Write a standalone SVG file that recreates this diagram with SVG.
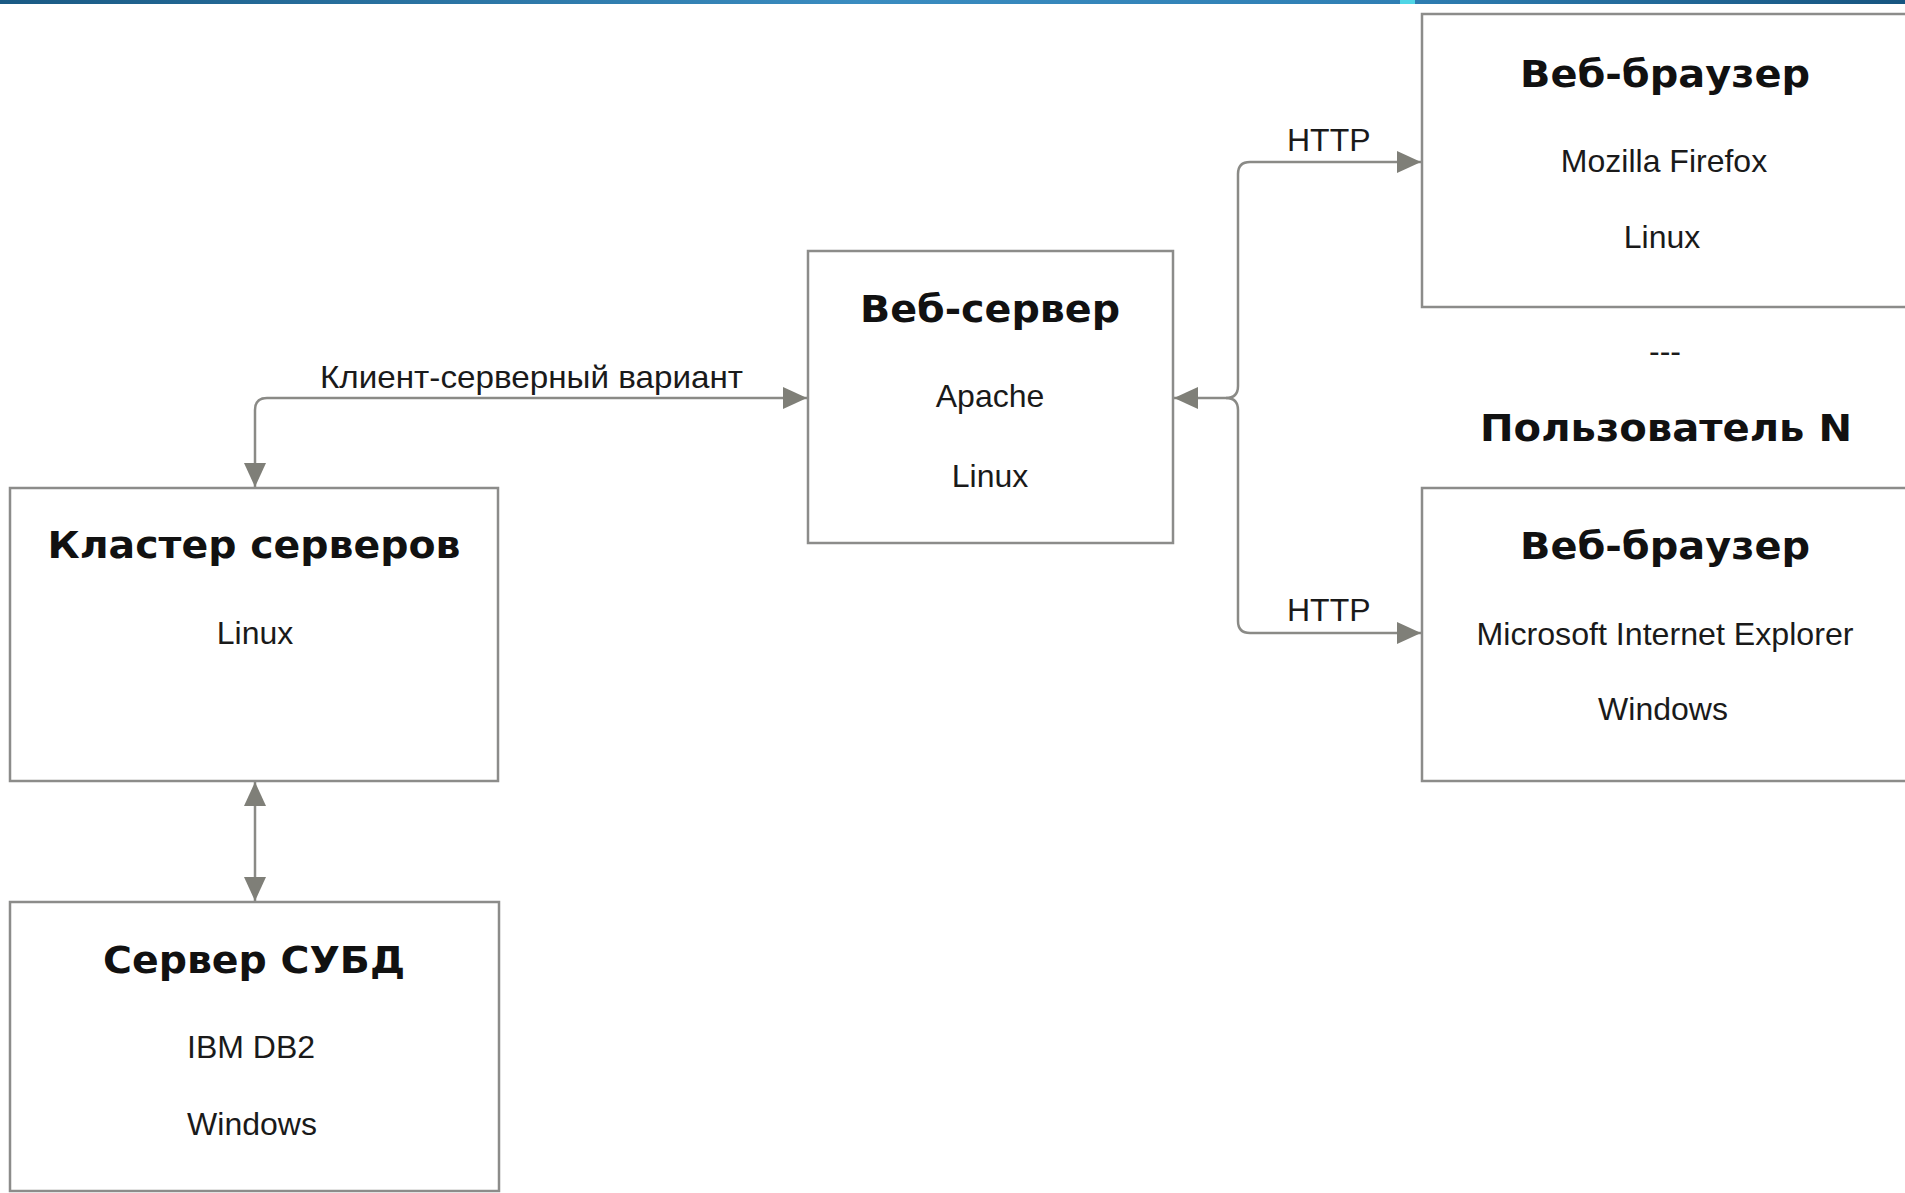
<svg xmlns="http://www.w3.org/2000/svg" width="1905" height="1193" viewBox="0 0 1905 1193">
  <defs>
    <linearGradient id="topbar" x1="0" y1="0" x2="1" y2="0">
      <stop offset="0" stop-color="#1a5a84"/>
      <stop offset="0.45" stop-color="#3a8cc0"/>
      <stop offset="0.73" stop-color="#2f7fb4"/>
      <stop offset="1" stop-color="#175580"/>
    </linearGradient>
    <marker id="arr" markerUnits="userSpaceOnUse" markerWidth="26" markerHeight="24" refX="24" refY="11" orient="auto-start-reverse" viewBox="0 0 26 24">
      <path d="M0,0 L24,11 L0,22 Z" fill="#7f7f78"/>
    </marker>
    <style>
      .box { fill: #ffffff; stroke: #8c8c8a; stroke-width: 2.5; }
      .title { font-family: "DejaVu Sans", "Noto Sans", sans-serif; font-weight: bold; font-size: 37px; fill: #111111; text-anchor: middle; }
      .txt { font-family: "Liberation Sans", Arial, sans-serif; font-size: 32px; fill: #1a1a1a; text-anchor: middle; }
      .lbl { font-family: "Liberation Sans", Arial, sans-serif; font-size: 32px; fill: #1a1a1a; }
      .conn { fill: none; stroke: #8a8a86; stroke-width: 2.5; }
    </style>
  </defs>

  <rect x="0" y="0" width="1905" height="1193" fill="#ffffff"/>
  <rect x="0" y="0" width="1905" height="4" fill="url(#topbar)"/>
  <rect x="1400" y="0" width="15" height="4" fill="#4fd6e6"/>

  <g id="connectors">
    <path class="conn" d="M255,487 L255,410 Q255,398 267,398 L807,398" marker-start="url(#arr)" marker-end="url(#arr)"/>
    <path class="conn" d="M255,782 L255,901" marker-start="url(#arr)" marker-end="url(#arr)"/>
    <path class="conn" d="M1174,398 L1226,398" marker-start="url(#arr)"/>
    <path class="conn" d="M1226,398 Q1238,398 1238,386 L1238,174 Q1238,162 1250,162 L1421,162" marker-end="url(#arr)"/>
    <path class="conn" d="M1226,398 Q1238,398 1238,410 L1238,621 Q1238,633 1250,633 L1421,633" marker-end="url(#arr)"/>
    <text class="lbl" x="320" y="388" textLength="423" lengthAdjust="spacingAndGlyphs">Клиент-серверный вариант</text>
    <text class="lbl" x="1287" y="151">HTTP</text>
    <text class="lbl" x="1287" y="621">HTTP</text>
  </g>

  <g id="web-server">
    <rect class="box" x="808" y="251" width="365" height="292"/>
    <text class="title" x="990" y="322" textLength="260" lengthAdjust="spacingAndGlyphs">Веб-сервер</text>
    <text class="txt" x="990" y="407">Apache</text>
    <text class="txt" x="990" y="487">Linux</text>
  </g>

  <g id="browser-1">
    <rect class="box" x="1422" y="14" width="500" height="293"/>
    <text class="title" x="1665" y="87" textLength="290" lengthAdjust="spacingAndGlyphs">Веб-браузер</text>
    <text class="txt" x="1664" y="172">Mozilla Firefox</text>
    <text class="txt" x="1662" y="248">Linux</text>
  </g>

  <g id="ellipsis">
    <text class="txt" x="1665" y="362">---</text>
  </g>

  <g id="user-n">
    <text class="title" x="1666" y="441" textLength="372" lengthAdjust="spacingAndGlyphs">Пользователь N</text>
  </g>

  <g id="browser-n">
    <rect class="box" x="1422" y="488" width="500" height="293"/>
    <text class="title" x="1665" y="559" textLength="290" lengthAdjust="spacingAndGlyphs">Веб-браузер</text>
    <text class="txt" x="1665" y="645" textLength="377" lengthAdjust="spacingAndGlyphs">Microsoft Internet Explorer</text>
    <text class="txt" x="1663" y="720">Windows</text>
  </g>

  <g id="cluster">
    <rect class="box" x="10" y="488" width="488" height="293"/>
    <text class="title" x="254" y="558" textLength="413" lengthAdjust="spacingAndGlyphs">Кластер серверов</text>
    <text class="txt" x="255" y="644">Linux</text>
  </g>

  <g id="db-server">
    <rect class="box" x="10" y="902" width="489" height="289"/>
    <text class="title" x="254" y="973" textLength="302" lengthAdjust="spacingAndGlyphs">Сервер СУБД</text>
    <text class="txt" x="251" y="1058">IBM DB2</text>
    <text class="txt" x="252" y="1135">Windows</text>
  </g>
</svg>
